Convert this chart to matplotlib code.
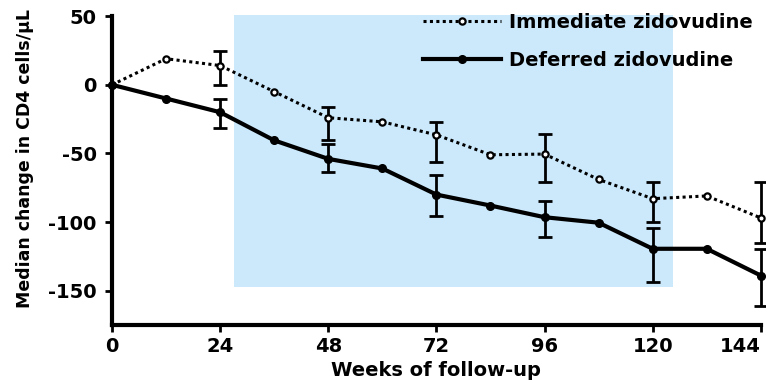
import matplotlib
matplotlib.use('Agg')
import matplotlib.pyplot as plt

# Weeks of follow-up
weeks = [0, 12, 24, 36, 48, 60, 72, 84, 96, 108, 120, 132, 144]

# Median change in CD4 cells/uL
immediate = [0, 19, 14, -5, -24, -27, -36.5, -51, -50.5, -69, -83, -81, -97]
deferred = [0, -10, -20, -40.5, -54, -61, -80, -88, -96.5, -100.5, -119.5, -119.5, -139]

# Error bars (only at 24-week intervals)
err_weeks = [24, 48, 72, 96, 120, 144]
imm_err_mid = [14, -24, -36.5, -50.5, -83, -97]
imm_err_low = [0, -40.5, -56, -70.5, -100, -115.5]
imm_err_high = [24.5, -16, -27, -36, -71, -71]
def_err_mid = [-20, -54, -80, -96.5, -119.5, -139]
def_err_low = [-31.5, -63.5, -95.5, -111, -144, -161]
def_err_high = [-10, -43, -65.5, -84.5, -104, -119.5]

# shaded window
shade_weeks = [27, 124.5]
shade_range = [-147, 51]

x_ticks = [0, 24, 48, 72, 96, 120, 144]
y_ticks = [50, 0, -50, -100, -150]

plt.rcParams['font.family'] = ['DejaVu Sans']
plt.rcParams['font.weight'] = 'bold'
plt.rcParams['axes.unicode_minus'] = False

fig = plt.figure(figsize=(7.66, 3.85), dpi=100)
ax = fig.add_axes([0.1462, 0.156, 0.847, 0.802])

ax.fill_between(shade_weeks, shade_range[0], shade_range[1],
                color='#cbe9fb', lw=0, zorder=0, clip_on=False)

ax.plot(weeks, immediate, linestyle=(0, (1, 1.1)), color='black', lw=2.2,
        marker='o', markersize=4.5, markerfacecolor='white', markeredgewidth=1.6,
        label='Immediate zidovudine', clip_on=False, zorder=3)
ax.plot(weeks, deferred, linestyle='-', color='black', lw=3,
        marker='o', markersize=5.5, markerfacecolor='black',
        label='Deferred zidovudine', clip_on=False, zorder=3)

imm_yerr = [[m - lo for m, lo in zip(imm_err_mid, imm_err_low)],
            [hi - m for m, hi in zip(imm_err_mid, imm_err_high)]]
def_yerr = [[m - lo for m, lo in zip(def_err_mid, def_err_low)],
            [hi - m for m, hi in zip(def_err_mid, def_err_high)]]
for mid, yerr in [(imm_err_mid, imm_yerr), (def_err_mid, def_yerr)]:
    eb = ax.errorbar(err_weeks, mid, yerr=yerr, fmt='none', ecolor='black',
                     elinewidth=2, capsize=5, capthick=2, zorder=2)
    for artist in eb.lines[1] + eb.lines[2]:
        artist.set_clip_on(False)

ax.set_xlim(0, 144)
ax.set_ylim(-175, 50)
ax.set_xticks(x_ticks)
ax.set_yticks(y_ticks)

for s in ['top', 'right']:
    ax.spines[s].set_visible(False)
for s in ['left', 'bottom']:
    ax.spines[s].set_linewidth(3)
ax.tick_params(axis='both', direction='out', length=5, width=2,
               labelsize=14, pad=4)
ax.tick_params(axis='y', pad=6)

# last x label sits flush with the right edge
ax.get_xticklabels()[-1].set_horizontalalignment('right')

ax.set_xlabel('Weeks of follow-up', fontsize=14, fontweight='bold', labelpad=3)
ax.set_ylabel('Median change in CD4 cells/\u03bcL', fontsize=12.5,
              fontweight='bold')
ax.yaxis.set_label_coords(-0.12, 0.54)

leg = ax.legend(loc='upper right', bbox_to_anchor=(1.0, 1.035), frameon=False,
                fontsize=14, handlelength=4.0, labelspacing=0.95,
                handletextpad=0.45, borderaxespad=0)

fig.savefig('out.png', dpi=100)
